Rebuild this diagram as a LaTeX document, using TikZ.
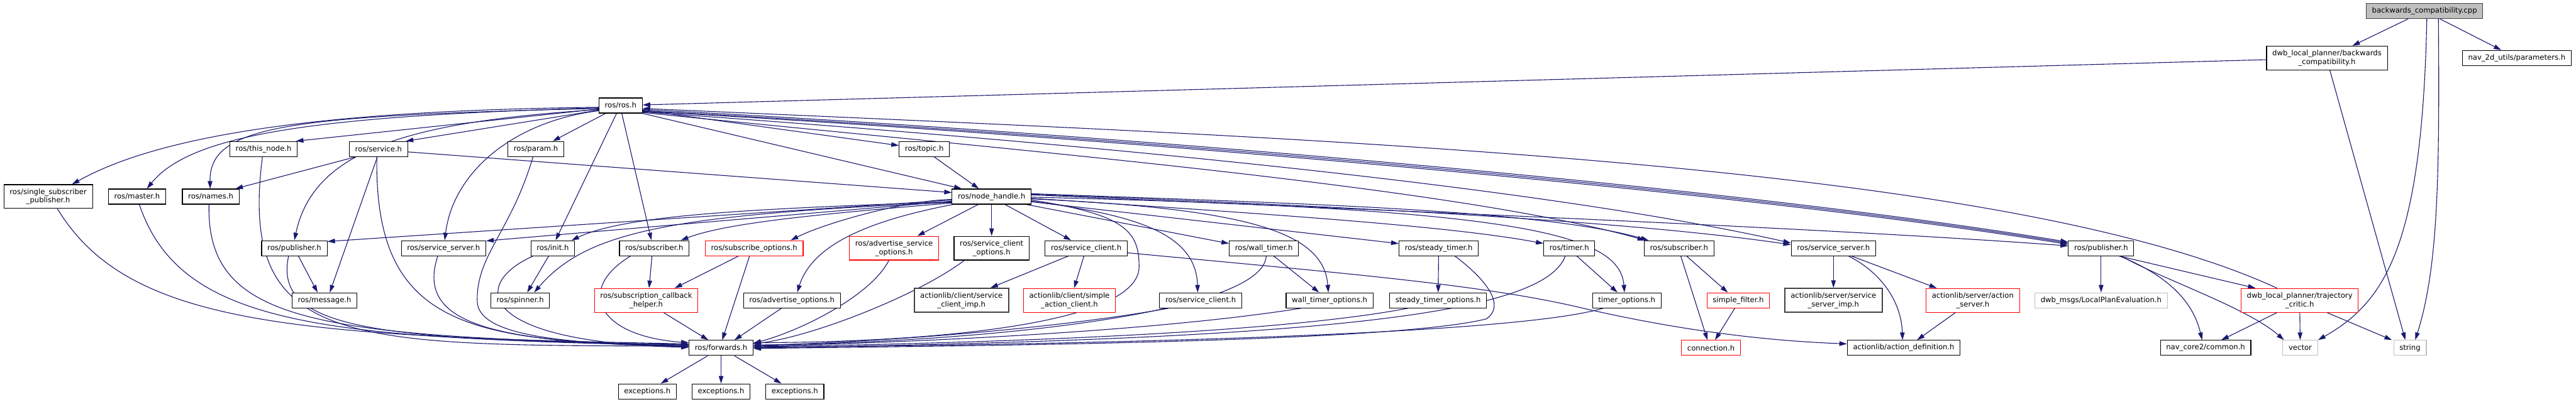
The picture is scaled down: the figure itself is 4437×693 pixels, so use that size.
\documentclass[tikz,border=0pt]{standalone}
\usepackage{fontspec}
\setmainfont{DejaVu Sans}
\usetikzlibrary{arrows.meta,calc,backgrounds}
\definecolor{edgeblue}{HTML}{191970}
\definecolor{grey75}{HTML}{BFBFBF}
\definecolor{grey25}{HTML}{404040}

\begin{document}
\begin{tikzpicture}[x=0.5pt, y=-0.5pt,
  font=\fontsize{6.3}{7.5}\selectfont,
  hdr/.style={draw=black, line width=0.6pt, fill=white, align=center,
              inner xsep=5pt, inner ysep=1pt, minimum height=13pt},
  two/.style={minimum height=20.5pt},
  trunc/.style={draw=red},
  nodoc/.style={draw=grey75},
  thick25/.style={draw=grey25, line width=1.1pt},
  dep/.style={draw=edgeblue, line width=0.6pt,
              -{Triangle[length=6.5pt, width=4pt]}}]
  \useasboundingbox (0,0) rectangle (4437,693);

  % top
  \node[hdr, fill=grey75, draw=grey25] (cpp) at (4176,19) {backwards\_compatibility.cpp};
  \node[hdr, two] (bch) at (4008,100) {dwb\_local\_planner/backwards\\\_compatibility.h};
  \node[hdr] (params) at (4335,100) {nav\_2d\_utils/parameters.h};
  \node[hdr] (ros) at (1069,182) {ros/ros.h};
  \node[hdr] (thisnode) at (454,257) {ros/this\_node.h};
  \node[hdr] (service) at (652,257) {ros/service.h};
  \node[hdr] (param) at (923,257) {ros/param.h};
  \node[hdr] (topic) at (1592,257) {ros/topic.h};
  \node[hdr, two] (ssp) at (83,339) {ros/single\_subscriber\\\_publisher.h};
  \node[hdr] (master) at (236,339) {ros/master.h};
  \node[hdr] (names) at (363,339) {ros/names.h};
  \node[hdr] (nh) at (1708,339) {ros/node\_handle.h};

  % row of node_handle children
  \node[hdr] (pubL) at (507,428) {ros/publisher.h};
  \node[hdr] (ssL) at (764,428) {ros/service\_server.h};
  \node[hdr] (init) at (952,428) {ros/init.h};
  \node[hdr] (subL) at (1127,428) {ros/subscriber.h};
  \node[hdr, trunc] (subopt) at (1299,428) {ros/subscribe\_options.h};
  \node[hdr, two, trunc] (advsrvopt) at (1540,428) {ros/advertise\_service\\\_options.h};
  \node[hdr, two] (srvcliopt) at (1708,428) {ros/service\_client\\\_options.h};
  \node[hdr] (srvcli) at (1871,428) {ros/service\_client.h};
  \node[hdr] (walltimer) at (2177,428) {ros/wall\_timer.h};
  \node[hdr] (steadytimer) at (2478,428) {ros/steady\_timer.h};
  \node[hdr] (timer) at (2703,428) {ros/timer.h};
  \node[hdr] (subR) at (2892,428) {ros/subscriber.h};
  \node[hdr] (ssR) at (3158,428) {ros/service\_server.h};
  \node[hdr] (pubR) at (3619,428) {ros/publisher.h};

  \node[hdr] (message) at (559,518) {ros/message.h};
  \node[hdr] (spinner) at (896,518) {ros/spinner.h};
  \node[hdr, two, trunc] (cbhelper) at (1113,518) {ros/subscription\_callback\\\_helper.h};
  \node[hdr] (advopt) at (1364,518) {ros/advertise\_options.h};
  \node[hdr, two, thick25] (cliimp) at (1656,518) {actionlib/client/service\\\_client\_imp.h};
  \node[hdr, two, trunc] (simplecli) at (1842,518) {actionlib/client/simple\\\_action\_client.h};
  \node[hdr] (srvcli2) at (2068,518) {ros/service\_client.h};
  \node[hdr] (wtopt) at (2290,518) {wall\_timer\_options.h};
  \node[hdr] (stopt) at (2477,518) {steady\_timer\_options.h};
  \node[hdr] (topt) at (2802,518) {timer\_options.h};
  \node[hdr, trunc] (sfilter) at (2994,518) {simple\_filter.h};
  \node[hdr, two, thick25] (srvimp) at (3158,518) {actionlib/server/service\\\_server\_imp.h};
  \node[hdr, two, trunc] (actsrv) at (3398,518) {actionlib/server/action\\\_server.h};
  \node[hdr, nodoc] (lpe) at (3619,518) {dwb\_msgs/LocalPlanEvaluation.h};
  \node[hdr, two, trunc] (critic) at (3961,518) {dwb\_local\_planner/trajectory\\\_critic.h};

  \node[hdr] (fwd) at (1242,600) {ros/forwards.h};
  \node[hdr, trunc] (conn) at (2947,600) {connection.h};
  \node[hdr] (actdef) at (3279,600) {actionlib/action\_definition.h};
  \node[hdr] (navcore) at (3799,600) {nav\_core2/common.h};
  \node[hdr, nodoc] (vector) at (3962,600) {vector};
  \node[hdr, nodoc] (string) at (4151,600) {string};

  \node[hdr] (exc1) at (1115,675) {exceptions.h};
  \node[hdr] (exc2) at (1242,675) {exceptions.h};
  \node[hdr] (exc3) at (1369,675) {exceptions.h};

  \begin{scope}[on background layer]
  % backwards_compatibility
  \draw[dep] (cpp) -- (bch);
  \draw[dep] (cpp) -- (params);
  \draw[dep] ($(cpp.south)+(4,0)$) .. controls (4172,420) and (4110,520) .. (vector.north east);
  \draw[dep] ($(cpp.south)+(24,0)$) .. controls (4202,300) and (4200,460) .. ($(string.north)+(9,0)$);
  \draw[dep] ($(bch.south)+(5,0)$) -- ($(string.north)+(-8,0)$);
  \draw[dep] (bch) -- (ros);
  \draw[dep] ($(critic.north)+(-39,0)$) .. controls (3450,280) and (2300,240) .. ($(ros.east)+(0,5)$);

  % ros/ros.h
  \draw[dep] ($(ros.west)+(0,3)$) .. controls (600,190) and (290,225) .. ($(ssp.north)+(41,0)$);
  \draw[dep] ($(ros.west)+(0,4)$) .. controls (550,200) and (330,230) .. ($(master.north)+(17,0)$);
  \draw[dep] ($(ros.west)+(0,5)$) .. controls (500,200) and (360,215) .. ($(names.north)+(-1,0)$);
  \draw[dep] ($(ros.west)+(0,6)$) -- ($(thisnode.north east)+(-3,0)$);
  \draw[dep] ($(ros.west)+(0,8)$) -- ($(service.north east)+(-4,0)$);
  \draw[dep] ($(ros.west)+(0,7)$) .. controls (700,210) and (540,260) .. (pubL.north);
  \draw[dep] ($(ros.west)+(0,9)$) .. controls (880,210) and (780,300) .. ($(ssL.north)+(2,0)$);
  \draw[dep] ($(ros.south)+(-26,0)$) -- ($(param.north)+(29,0)$);
  \draw[dep] ($(ros.south)+(-7,0)$) -- ($(init.north)+(5,0)$);
  \draw[dep] ($(ros.south)+(2,0)$) -- ($(subL.north)+(-5,0)$);
  \draw[dep] ($(ros.east)+(0,8)$) -- (topic);
  \draw[dep] (ros.south east) -- ($(nh.north west)+(17,0)$);
  \draw[dep] ($(ros.east)+(0,12)$) .. controls (1700,255) and (2500,320) .. ($(subR.north west)+(2,0)$);
  \draw[dep] ($(ros.east)+(0,11)$) .. controls (1700,235) and (2600,310) .. ($(ssR.west)+(0,-9)$);
  \draw[dep] ($(ros.east)+(0,7)$) .. controls (1700,218) and (2900,308) .. ($(pubR.north west)+(0,3)$);
  \draw[dep] ($(ros.east)+(0,9)$) .. controls (1700,221) and (2900,311) .. ($(pubR.north west)+(0,5)$);
  \draw[dep] ($(ros.east)+(0,10)$) .. controls (1700,224) and (2900,314) .. ($(pubR.north west)+(0,7)$);

  % second row
  \draw[dep] ($(topic.south)+(17,0)$) -- ($(nh.north)+(-22,0)$);
  \draw[dep] ($(service.east)+(0,5)$) -- ($(nh.west)+(0,-7)$);
  \draw[dep] ($(service.south west)+(11,0)$) -- ($(names.north east)+(-7,0)$);
  \draw[dep] ($(service.south)+(-2,0)$) -- ($(message.north)+(9,0)$);
  \draw[dep] ($(service.south)+(-3,0)$) .. controls (645,560) and (800,590) .. ($(fwd.west)+(0,-4)$);
  \draw[dep] ($(thisnode.south)+(-2,0)$) .. controls (410,600) and (600,595) .. ($(fwd.west)+(0,-3)$);
  \draw[dep] ($(param.south)+(-5,0)$) .. controls (880,400) and (820,440) .. (822,520)
    .. controls (824,585) and (1000,592) .. ($(fwd.west)+(0,-2)$);
  \draw[dep] ($(ssp.south)+(16,0)$) .. controls (220,560) and (500,580) .. ($(fwd.west)+(0,-7)$);
  \draw[dep] ($(master.south)+(4,0)$) .. controls (310,560) and (550,585) .. ($(fwd.west)+(0,-6)$);
  \draw[dep] ($(names.south)+(-3,0)$) .. controls (355,560) and (550,580) .. ($(fwd.west)+(0,-5)$);

  % ros/node_handle.h
  \draw[dep] ($(nh.west)+(0,6)$) -- ($(pubL.north east)+(0,2)$);
  \draw[dep] ($(nh.west)+(0,8)$) -- ($(ssL.north east)+(0,1)$);
  \draw[dep] ($(nh.west)+(0,9)$) .. controls (1300,360) and (1080,370) .. ($(init.north east)+(-6,0)$);
  \draw[dep] ($(nh.west)+(0,10)$) .. controls (1150,370) and (1010,400) .. ($(spinner.north)+(24,0)$);
  \draw[dep] ($(nh.west)+(0,11)$) .. controls (1400,370) and (1250,385) .. ($(subL.north east)+(-15,0)$);
  \draw[dep] ($(nh.west)+(0,5)$) .. controls (1560,345) and (1420,385) .. ($(subopt.north east)+(-22,0)$);
  \draw[dep] ($(nh.south west)+(2,0)$) .. controls (1500,380) and (1400,420) .. ($(advopt.north)+(9,0)$);
  \draw[dep] ($(nh.south)+(-23,0)$) -- ($(advsrvopt.north)+(40,0)$);
  \draw[dep] (nh) -- (srvcliopt);
  \draw[dep] ($(nh.south)+(23,0)$) -- ($(srvcli.north)+(-26,0)$);
  \draw[dep] ($(nh.south east)+(-9,0)$) -- ($(walltimer.west)+(0,-8)$);
  \draw[dep] ($(nh.east)+(0,9)$) -- ($(steadytimer.west)+(0,-8)$);
  \draw[dep] ($(nh.east)+(0,3)$) .. controls (2200,370) and (2500,390) .. ($(timer.west)+(0,-8)$);
  \draw[dep] ($(nh.east)+(0,-5)$) .. controls (2200,350) and (2650,360) .. ($(subR.north west)+(8,0)$);
  \draw[dep] ($(nh.east)+(0,-4)$) .. controls (2300,355) and (2800,380) .. ($(ssR.west)+(0,-6)$);
  \draw[dep] ($(nh.east)+(0,-3)$) .. controls (2300,360) and (3100,390) .. ($(pubR.west)+(0,-4)$);
  \draw[dep] ($(nh.east)+(0,8)$) .. controls (1950,370) and (2060,400) .. ($(srvcli2.north)+(-5,0)$);
  \draw[dep] ($(nh.east)+(0,4)$) .. controls (2150,360) and (2280,400) .. ($(wtopt.north)+(-2,0)$);
  \draw[dep] ($(nh.east)+(0,1)$) .. controls (2600,360) and (2790,400) .. ($(topt.north)+(-4,0)$);
  \draw[dep] ($(nh.east)+(0,6)$) .. controls (1940,370) and (1962,400) .. (1962,460)
    .. controls (1962,560) and (1600,590) .. ($(fwd.east)+(0,-9)$);

  % third row
  \draw[dep] ($(pubL.south)+(7,0)$) -- ($(message.north)+(-12,0)$);
  \draw[dep] ($(pubL.south)+(-10,0)$) .. controls (470,570) and (650,585) .. ($(fwd.west)+(0,-4)$);
  \draw[dep] ($(ssL.south)+(-10,0)$) .. controls (715,560) and (850,590) .. ($(fwd.west)+(0,-2)$);
  \draw[dep] ($(init.south)+(-34,0)$) .. controls (810,490) and (820,590) .. ($(fwd.west)+(0,-1)$);
  \draw[dep] ($(init.south)+(-7,0)$) -- ($(spinner.north)+(12,0)$);
  \draw[dep] ($(subL.south)+(-41,0)$) .. controls (990,500) and (1030,580) .. ($(fwd.west)+(0,-9)$);
  \draw[dep] ($(subL.south)+(-4,0)$) -- ($(cbhelper.north)+(5,0)$);
  \draw[dep] ($(subopt.south)+(-27,0)$) -- ($(cbhelper.north)+(49,0)$);
  \draw[dep] ($(subopt.south)+(-8,0)$) -- ($(fwd.north)+(2,0)$);
  \draw[dep] ($(advsrvopt.south)+(-9,0)$) .. controls (1500,510) and (1380,570) .. ($(fwd.east)+(0,-8)$);
  \draw[dep] ($(srvcliopt.south)+(-47,0)$) .. controls (1580,510) and (1400,580) .. ($(fwd.east)+(0,-7)$);
  \draw[dep] ($(srvcli.south)+(-31,0)$) -- ($(cliimp.north)+(50,0)$);
  \draw[dep] ($(srvcli.south)+(-4,0)$) -- ($(simplecli.north)+(8,0)$);
  \draw[dep] ($(srvcli.east)+(0,8)$) .. controls (2300,470) and (2550,490) .. (2720,530)
    .. controls (2900,572) and (3050,588) .. ($(actdef.west)+(0,-7)$);
  \draw[dep] ($(walltimer.south)+(17,0)$) -- ($(wtopt.north)+(-18,0)$);
  \draw[dep] ($(walltimer.south)+(4,0)$) .. controls (2175,540) and (1700,590) .. ($(fwd.east)+(0,-5)$);
  \draw[dep] (steadytimer) -- (stopt);
  \draw[dep] ($(steadytimer.south)+(28,0)$) .. controls (2570,490) and (2590,530) .. (2560,550)
    .. controls (2400,590) and (1700,596) .. ($(fwd.east)+(0,1)$);
  \draw[dep] ($(timer.south)+(13,0)$) -- ($(topt.north)+(-16,0)$);
  \draw[dep] ($(timer.south)+(-7,0)$) .. controls (2660,540) and (2300,585) .. (fwd.east);
  \draw[dep] ($(subR.south)+(3,0)$) -- ($(conn.north)+(-6,0)$);
  \draw[dep] ($(subR.south)+(13,0)$) -- ($(sfilter.north)+(-18,0)$);
  \draw[dep] (ssR) -- (srvimp);
  \draw[dep] ($(ssR.south)+(31,0)$) -- ($(actsrv.north)+(-62,0)$);
  \draw[dep] ($(ssR.south)+(26,0)$) .. controls (3240,470) and (3275,520) .. ($(actdef.north)+(-2,0)$);
  \draw[dep] (pubR) -- (lpe);
  \draw[dep] ($(pubR.south)+(31,0)$) -- ($(critic.north)+(-76,0)$);
  \draw[dep] ($(pubR.south)+(32,0)$) .. controls (3720,470) and (3775,510) .. ($(navcore.north)+(-6,0)$);
  \draw[dep] ($(pubR.south)+(35,0)$) .. controls (3720,480) and (3870,530) .. ($(vector.north)+(-28,0)$);

  % fourth row
  \draw[dep] ($(cbhelper.south)+(30,0)$) -- ($(fwd.north)+(-22,0)$);
  \draw[dep] ($(advopt.south)+(-18,0)$) -- ($(fwd.north)+(23,0)$);
  \draw[dep] ($(srvcli2.south)+(-55,0)$) .. controls (1800,570) and (1500,590) .. ($(fwd.east)+(0,-4)$);
  \draw[dep] ($(wtopt.south)+(-49,0)$) .. controls (2000,570) and (1600,590) .. ($(fwd.east)+(0,-3)$);
  \draw[dep] ($(stopt.south)+(-52,0)$) .. controls (2200,575) and (1700,592) .. ($(fwd.east)+(0,-2)$);
  \draw[dep] ($(topt.south)+(-41,0)$) .. controls (2600,580) and (1800,595) .. ($(fwd.east)+(0,-1)$);
  \draw[dep] ($(sfilter.south)+(-6,0)$) -- ($(conn.north)+(7,0)$);
  \draw[dep] ($(actsrv.south)+(-30,0)$) -- ($(actdef.north)+(23,0)$);
  \draw[dep] ($(critic.south)+(-39,0)$) -- ($(navcore.north)+(27,0)$);
  \draw[dep] (critic) -- (vector);
  \draw[dep] ($(critic.south)+(47,0)$) -- ($(string.north)+(-31,0)$);

  % ros/forwards.h
  \draw[dep] (fwd) -- (exc1);
  \draw[dep] (fwd) -- (exc2);
  \draw[dep] (fwd) -- (exc3);
  \end{scope}
\end{tikzpicture}
\end{document}
